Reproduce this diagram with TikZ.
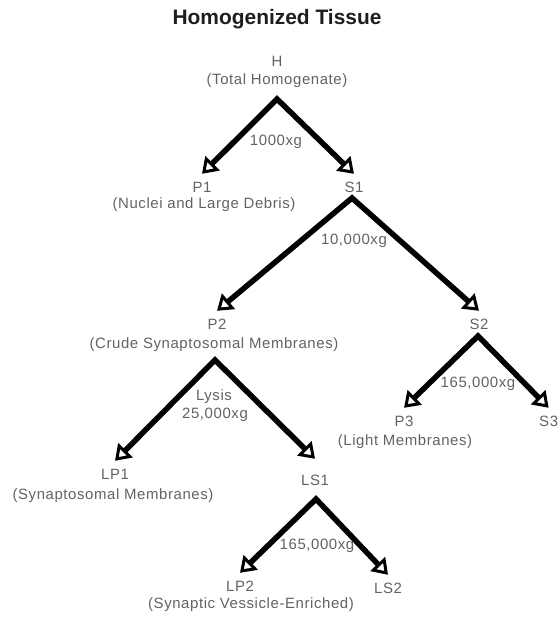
\documentclass[tikz,border=0pt]{standalone}
\usepackage{fontspec}
\setmainfont[LetterSpace=4]{Liberation Sans}
\newfontfamily\titlefont{Liberation Sans}
\usetikzlibrary{arrows.meta}
\definecolor{txt}{HTML}{626262}
\definecolor{ttl}{HTML}{1E1E1E}
\tikzset{
  openhead/.tip={Triangle[open,length=15bp,width=20bp,line width=3bp]},
  lbl/.style={font=\fontsize{15}{17}\selectfont, text=txt, inner xsep=1bp, inner ysep=7bp, text height=11bp, text depth=3bp},
  ttlstyle/.style={font=\titlefont\fontsize{21}{24}\selectfont\bfseries, text=ttl},
  split/.style={line width=5.5bp, line join=miter, openhead-openhead}
}
\begin{document}
\begin{tikzpicture}[x=1bp,y=-1bp]
\useasboundingbox (0,0) rectangle (558,620);
\node[ttlstyle] (title) at (277,19) {Homogenized Tissue};
\node[lbl] (H) at (277,63) {H};
\node[lbl] (Hd) at (277,81) {(Total Homogenate)};
\coordinate (Ha) at (277,99);
\node[lbl] (P1) at (202,188) {P1};
\node[lbl] (P1d) at (204,204) {(Nuclei and Large Debris)};
\node[lbl] (S1) at (354,188) {S1};
\coordinate (S1a) at (352,198);
\node[lbl] (g1) at (276,142) {1000xg};
\node[lbl] (g2) at (354,240) {10,000xg};
\node[lbl] (P2) at (217,325) {P2};
\node[lbl] (P2d) at (214,344) {(Crude Synaptosomal Membranes)};
\coordinate (P2a) at (215,360);
\node[lbl] (S2) at (479,325) {S2};
\coordinate (S2a) at (478,336);
\node[lbl] (g3) at (478,383) {165,000xg};
\node[lbl] (P3) at (404,422) {P3};
\node[lbl] (P3d) at (405,441) {(Light Membranes)};
\node[lbl, anchor=west, inner xsep=0bp] (S3) at (539,422) {S3};
\node[lbl] (lysis) at (214,396) {Lysis};
\node[lbl] (g4) at (215,414) {25,000xg};
\node[lbl] (LP1) at (115,475) {LP1};
\node[lbl] (LP1d) at (113,495) {(Synaptosomal Membranes)};
\node[lbl, inner ysep=15bp] (LS1) at (315,481) {LS1};
\coordinate (LS1a) at (316,499);
\node[lbl] (g5) at (317,545) {165,000xg};
\node[lbl] (LP2) at (240,587) {LP2};
\node[lbl] (LP2d) at (251,604) {(Synaptic Vessicle-Enriched)};
\node[lbl] (LS2) at (388,589) {LS2};
\draw[split] (P1.north) -- (Ha) -- (S1.north);
\draw[split] (P2.north) -- (S1a) -- (S2.north);
\draw[split] (P3.north) -- (S2a) -- (S3.north);
\draw[split] (LP1.north) -- (P2a) -- (LS1.north);
\draw[split] (LP2.north) -- (LS1a) -- (LS2.north);
\end{tikzpicture}
\end{document}
